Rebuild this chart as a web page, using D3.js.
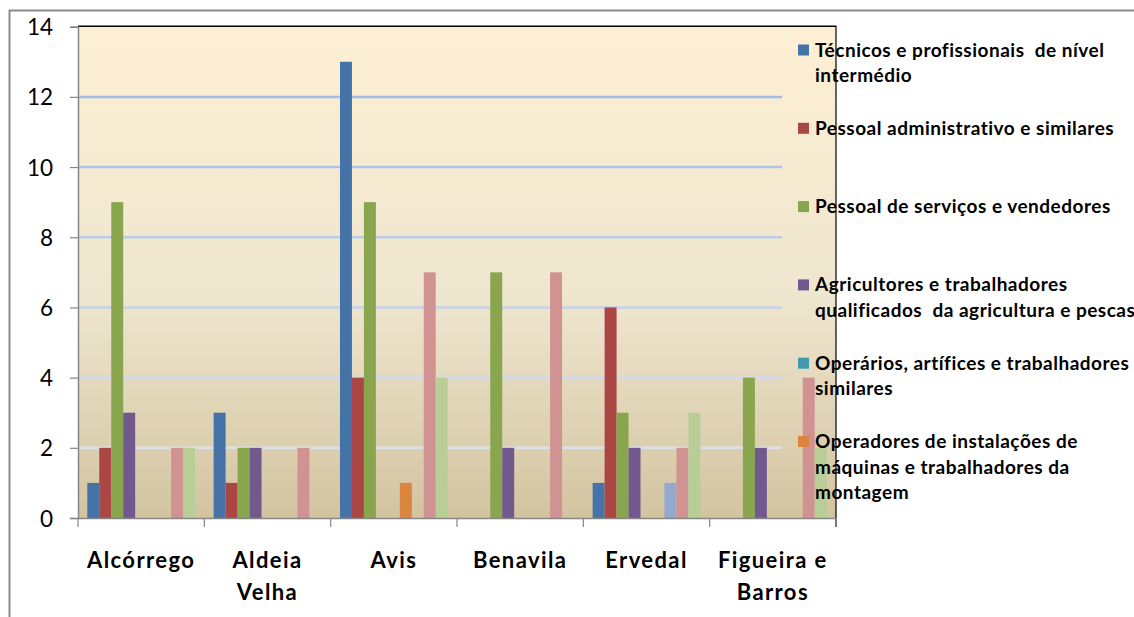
<!DOCTYPE html>
<html>
<head>
<meta charset="utf-8">
<script src="https://cdn.jsdelivr.net/npm/d3@7"></script>
<style>
  html, body { margin: 0; padding: 0; background: #ffffff; }
  svg { display: block; }
  .legend-text { white-space: pre; }
</style>
</head>
<body>
<svg id="chart" width="1134" height="617"></svg>
<script>
// ---- data ----
const categories = ["Alcórrego", "Aldeia Velha", "Avis", "Benavila", "Ervedal", "Figueira e Barros"];
const categoryLines = [["Alcórrego"], ["Aldeia", "Velha"], ["Avis"], ["Benavila"], ["Ervedal"], ["Figueira e", "Barros"]];
const seriesNames = [
  "Técnicos e profissionais  de nível intermédio",
  "Pessoal administrativo e similares",
  "Pessoal de serviços e vendedores",
  "Agricultores e trabalhadores qualificados  da agricultura e pescas",
  "Operários, artífices e trabalhadores similares",
  "Operadores de instalações de máquinas e trabalhadores da montagem",
  "Série 7",
  "Série 8",
  "Série 9"
];
const legendLines = [
  ["Técnicos e profissionais  de nível", "intermédio"],
  ["Pessoal administrativo e similares"],
  ["Pessoal de serviços e vendedores"],
  ["Agricultores e trabalhadores", "qualificados  da agricultura e pescas"],
  ["Operários, artífices e trabalhadores", "similares"],
  ["Operadores de instalações de", "máquinas e trabalhadores da", "montagem"]
];
const seriesColors = ["#4572A7", "#AA4643", "#89A54E", "#71588F", "#4198AF", "#DB843D", "#93A9CF", "#D19392", "#B9CD96"];
// values[series][category]
const s1 = [1, 3, 13, 0, 1, 0];
const s2 = [2, 1, 4, 0, 6, 0];
const s3 = [9, 2, 9, 7, 3, 4];
const s4 = [3, 2, 0, 2, 2, 2];
const s5 = [0, 0, 0, 0, 0, 0];
const s6 = [0, 0, 1, 0, 0, 0];
const s7 = [0, 0, 0, 0, 1, 0];
const s8 = [2, 2, 7, 7, 2, 4];
const s9 = [2, 0, 4, 0, 3, 2];
const seriesValues = [s1, s2, s3, s4, s5, s6, s7, s8, s9];
const yTicks = [0, 2, 4, 6, 8, 10, 12, 14];

// ---- layout ----
const svg = d3.select("#chart");
const L = 78, R = 836, T = 26.7, B = 518;
const gridRight = 782;
const FONT = "Lato, 'Liberation Sans', sans-serif";

const x0 = d3.scaleBand().domain(categories).range([L, R]).paddingInner(0).paddingOuter(0);
const bw = x0.bandwidth();
const gap = bw * 0.0737;
const x1 = d3.scaleBand().domain(d3.range(seriesNames.length)).range([gap, bw - gap]).padding(0);
const y = d3.scaleLinear().domain([0, 14]).range([B, T]);

// outer chart border (partially visible)
svg.append("line").attr("x1", 9).attr("x2", 1134).attr("y1", 10.5).attr("y2", 10.5)
  .attr("stroke", "#8c8c8c").attr("stroke-width", 2);
svg.append("line").attr("x1", 9.5).attr("x2", 9.5).attr("y1", 10).attr("y2", 617)
  .attr("stroke", "#8c8c8c").attr("stroke-width", 2);

// plot background gradient
const defs = svg.append("defs");
const grad = defs.append("linearGradient").attr("id", "bg").attr("x1", 0).attr("x2", 0).attr("y1", 0).attr("y2", 1);
grad.append("stop").attr("offset", "0%").attr("stop-color", "#FDEFD3");
grad.append("stop").attr("offset", "55%").attr("stop-color", "#EFE6CF");
grad.append("stop").attr("offset", "100%").attr("stop-color", "#D3C4A0");
svg.append("rect").attr("x", L).attr("y", T).attr("width", R - L).attr("height", B - T).attr("fill", "url(#bg)");

// gridlines
const gridColor = d3.scaleLinear().domain([2, 12]).range(["#DCE1EC", "#A2BCE6"]);
svg.append("g").selectAll("line").data(yTicks.filter(d => d > 0 && d < 14)).join("line")
  .attr("x1", L).attr("x2", gridRight)
  .attr("y1", d => y(d)).attr("y2", d => y(d))
  .attr("stroke", d => gridColor(d)).attr("stroke-width", 2.5);

// bars
const groups = svg.append("g").selectAll("g").data(categories).join("g")
  .attr("transform", d => `translate(${x0(d)},0)`);
groups.selectAll("rect").data((c, ci) => seriesValues.map((vals, si) => ({ si, v: vals[ci] })))
  .join("rect")
  .filter(d => d.v > 0)
  .attr("x", d => x1(d.si))
  .attr("width", x1.bandwidth())
  .attr("y", d => y(d.v))
  .attr("height", d => y(0) - y(d.v))
  .attr("fill", d => seriesColors[d.si]);

// top and right frame (black)
svg.append("line").attr("x1", L).attr("x2", R).attr("y1", T - 0.5).attr("y2", T - 0.5).attr("stroke", "#000").attr("stroke-width", 1.5);
svg.append("line").attr("x1", R).attr("x2", R).attr("y1", T - 1).attr("y2", B + 9).attr("stroke", "#000").attr("stroke-width", 1.2);

// y axis
const yAxis = d3.axisLeft(y).tickValues(yTicks).tickSize(8).tickPadding(17).tickFormat(d3.format("d"));
const gy = svg.append("g").attr("transform", `translate(${L},0)`).call(yAxis);
gy.select(".domain").attr("stroke", "#868686").attr("stroke-width", 1.5);
gy.selectAll(".tick line").attr("stroke", "#868686").attr("stroke-width", 1.2);
gy.selectAll(".tick text").attr("font-family", FONT)
  .attr("font-size", 22.5).attr("fill", "#000").attr("dy", "0.36em");

// x axis line + ticks at category boundaries
svg.append("line").attr("x1", L).attr("x2", R).attr("y1", B + 0.5).attr("y2", B + 0.5).attr("stroke", "#868686").attr("stroke-width", 1.5);
const bounds = categories.map(c => x0(c)).concat([R]);
svg.append("g").selectAll("line").data(bounds).join("line")
  .attr("x1", d => d).attr("x2", d => d).attr("y1", B).attr("y2", B + 9)
  .attr("stroke", "#868686").attr("stroke-width", 1.2);

// category labels
const cl = svg.append("g").selectAll("text").data(categories).join("text")
  .attr("x", d => x0(d) + bw / 2)
  .attr("y", 568)
  .attr("text-anchor", "middle")
  .attr("font-family", FONT)
  .attr("font-weight", "bold")
  .attr("font-size", 22)
  .attr("letter-spacing", "1.4px")
  .attr("fill", "#000");
cl.selectAll("tspan").data((d, i) => categoryLines[i]).join("tspan")
  .attr("x", function () { return d3.select(this.parentNode).attr("x"); })
  .attr("dy", (d, i) => i === 0 ? 0 : 32)
  .text(d => d);

// legend
const legendX = 798, legendBase = 56.5, legendStep = 78.3, lineH = 25.5;
const lg = svg.append("g").selectAll("g").data(legendLines).join("g")
  .attr("transform", (d, i) => `translate(${legendX},${legendBase + i * legendStep})`);
lg.append("rect").attr("x", 0).attr("y", -12).attr("width", 11).attr("height", 11)
  .attr("fill", (d, i) => seriesColors[i]);
lg.append("text")
  .attr("class", "legend-text")
  .attr("font-family", FONT)
  .attr("font-weight", "bold")
  .attr("font-size", 19)
  .attr("letter-spacing", "0.5px")
  .attr("fill", "#000")
  .selectAll("tspan").data(d => d).join("tspan")
  .attr("x", 17).attr("y", (d, i) => i * lineH)
  .text(d => d);
</script>
</body>
</html>
